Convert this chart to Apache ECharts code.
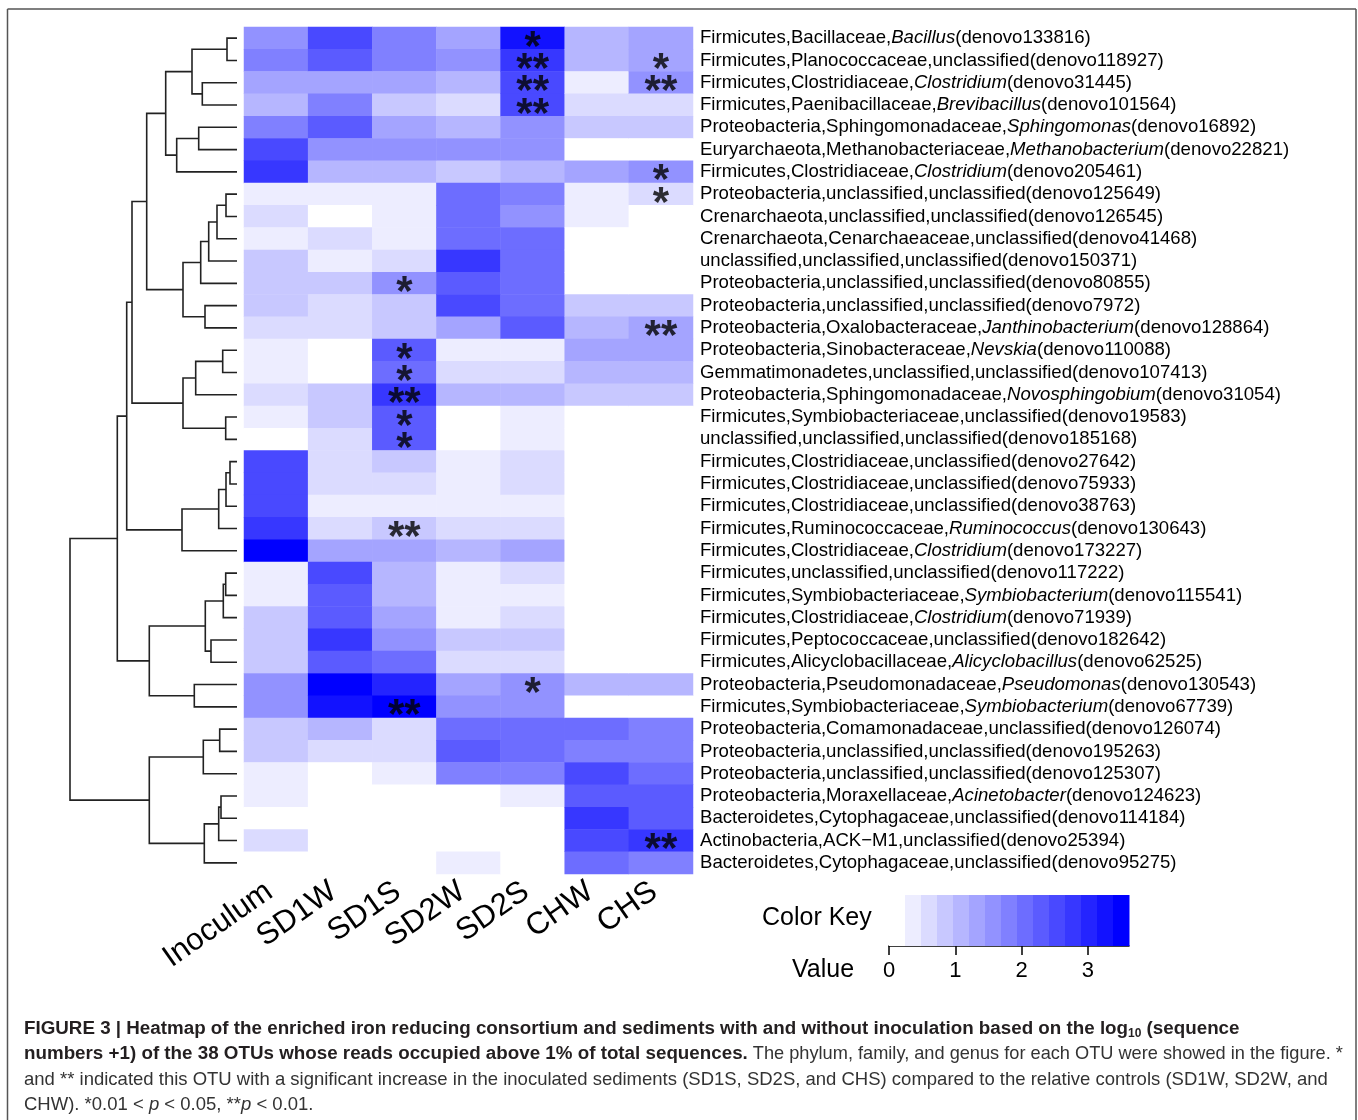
<!DOCTYPE html>
<html><head><meta charset="utf-8">
<script src="https://cdn.jsdelivr.net/npm/echarts@6/dist/echarts.min.js"></script>
<style>html,body{margin:0;padding:0;background:#fff}#c{width:1358px;height:1120px}</style>
</head><body><div id="c"></div>
<script>
// ---------------- data ----------------
const samples = ["Inoculum","SD1W","SD1S","SD2W","SD2S","CHW","CHS"];
const phylum = ["Firmicutes","Firmicutes","Firmicutes","Firmicutes","Proteobacteria","Euryarchaeota","Firmicutes","Proteobacteria","Crenarchaeota","Crenarchaeota","unclassified","Proteobacteria","Proteobacteria","Proteobacteria","Proteobacteria","Gemmatimonadetes","Proteobacteria","Firmicutes","unclassified","Firmicutes","Firmicutes","Firmicutes","Firmicutes","Firmicutes","Firmicutes","Firmicutes","Firmicutes","Firmicutes","Firmicutes","Proteobacteria","Firmicutes","Proteobacteria","Proteobacteria","Proteobacteria","Proteobacteria","Bacteroidetes","Actinobacteria","Bacteroidetes"];
const family = ["Bacillaceae","Planococcaceae","Clostridiaceae","Paenibacillaceae","Sphingomonadaceae","Methanobacteriaceae","Clostridiaceae","unclassified","unclassified","Cenarchaeaceae","unclassified","unclassified","unclassified","Oxalobacteraceae","Sinobacteraceae","unclassified","Sphingomonadaceae","Symbiobacteriaceae","unclassified","Clostridiaceae","Clostridiaceae","Clostridiaceae","Ruminococcaceae","Clostridiaceae","unclassified","Symbiobacteriaceae","Clostridiaceae","Peptococcaceae","Alicyclobacillaceae","Pseudomonadaceae","Symbiobacteriaceae","Comamonadaceae","unclassified","unclassified","Moraxellaceae","Cytophagaceae","ACK\u2212M1","Cytophagaceae"];
const genus = ["Bacillus","unclassified","Clostridium","Brevibacillus","Sphingomonas","Methanobacterium","Clostridium","unclassified","unclassified","unclassified","unclassified","unclassified","unclassified","Janthinobacterium","Nevskia","unclassified","Novosphingobium","unclassified","unclassified","unclassified","unclassified","unclassified","Ruminococcus","Clostridium","unclassified","Symbiobacterium","Clostridium","unclassified","Alicyclobacillus","Pseudomonas","Symbiobacterium","unclassified","unclassified","unclassified","Acinetobacter","unclassified","unclassified","unclassified"];
const otu = ["denovo133816","denovo118927","denovo31445","denovo101564","denovo16892","denovo22821","denovo205461","denovo125649","denovo126545","denovo41468","denovo150371","denovo80855","denovo7972","denovo128864","denovo110088","denovo107413","denovo31054","denovo19583","denovo185168","denovo27642","denovo75933","denovo38763","denovo130643","denovo173227","denovo117222","denovo115541","denovo71939","denovo182642","denovo62525","denovo130543","denovo67739","denovo126074","denovo195263","denovo125307","denovo124623","denovo114184","denovo25394","denovo95275"];

// log10(sequence numbers + 1), one array per sample, rows in the order above
const inoculum = [1.58,1.79,1.31,1.10,1.82,2.51,2.76,0.33,0.62,0.36,0.86,0.83,0.88,0.58,0.31,0.38,0.61,0.34,0,2.55,2.50,2.53,2.79,3.56,0.32,0.37,0.84,0.87,0.86,1.55,1.60,0.85,0.82,0.30,0.35,0,0.63,0];
const sd1w = [2.54,2.30,1.33,1.80,2.28,1.57,1.09,0.36,0,0.60,0.34,0.86,0.60,0.62,0,0,0.85,0.83,0.58,0.61,0.60,0.35,0.62,1.34,2.52,2.31,2.27,2.78,2.30,3.58,3.30,1.08,0.60,0,0,0,0,0];
const sd1s = [1.81,1.79,1.32,0.84,1.30,1.56,1.07,0.35,0.37,0.33,0.60,1.58,0.86,0.85,2.30,2.07,2.78,2.32,2.29,0.85,0.60,0.36,0.84,1.33,1.10,1.08,1.35,1.56,2.04,3.01,3.60,0.61,0.59,0.34,0,0,0,0];
const sd2w = [1.33,1.57,1.08,0.60,1.09,1.56,0.85,2.05,2.04,2.06,2.77,2.30,2.53,1.31,0.35,0.60,1.10,0,0,0.34,0.36,0.33,0.60,1.08,0.35,0.36,0.34,0.86,0.61,1.32,1.57,2.05,2.29,1.80,0,0,0,0.35];
const sd2s = [3.25,2.78,2.54,2.52,1.57,1.58,1.09,1.80,1.57,2.05,2.06,2.03,2.07,2.30,0.35,0.60,1.09,0.34,0.36,0.60,0.62,0.35,0.60,1.33,0.60,0.35,0.59,0.85,0.60,1.57,1.56,2.05,2.05,1.80,0.33,0,0,0];
const chw = [1.08,1.09,0.35,0.60,0.85,0,1.32,0.36,0.34,0,0,0,0.85,1.08,1.33,1.09,0.84,0,0,0,0,0,0,0,0,0,0,0,0,1.08,0,2.05,1.80,2.53,2.30,2.78,2.52,2.06];
const chs = [1.33,1.32,1.57,0.60,0.85,0,1.58,0.60,0,0,0,0,0.85,1.33,1.32,1.08,0.86,0,0,0,0,0,0,0,0,0,0,0,0,1.09,0,1.80,1.81,2.05,2.30,2.29,2.78,1.80];

// significance marks: row index, sample index, mark
const sigRows = [0,1,1,2,2,3,6,7,11,13,14,15,16,17,18,22,29,30,36];
const sigCols = [4,4,6,4,6,4,6,6,2,6,2,2,2,2,2,2,4,2,6];
const sigMarks = ["*","**","*","**","**","**","*","*","*","**","*","*","**","*","*","**","*","**","**"];

// row dendrogram merges: [node, left child, right child, height]; numbers are leaf rows
const dendroMerges = [
 ["A",0,1,10],["B",2,3,34.7],["C","A","B",45],["D",4,5,38.3],["E","D",6,60.3],["F","C","E",71.3],
 ["G",7,8,11],["H","G",9,20],["I","H",10,28.3],["J","I",11,36.3],["K",12,13,32],["L","J","K",54],
 ["M","F","L",90.3],["N",14,15,14.3],["O","N",16,41.3],["P",17,18,11.3],["Q","O","P",54],["R","M","Q",105],
 ["T",19,20,7],["U","T",21,11],["V","U",22,18.3],["W","V",23,55],["S","R","W",110.3],
 ["Y1",24,25,11.3],["Y2","Y1",26,13.7],["Y3",27,28,26],["Y4","Y2","Y3",31.7],["Y5",29,30,42.7],["Y6","Y4","Y5",87.7],
 ["X","S","Y6",119.7],
 ["Z1",31,32,17.3],["Z2","Z1",33,33.7],["Z3",34,35,16],["Z4","Z3",36,18.3],["Z5","Z4",37,32.7],["Z6","Z2","Z5",87.7],
 ["Root","X","Z6",167]
];

// colour key
const keyMax = 3.62;
const keyBins = 15;
const keyTicks = [0,1,2,3];

// ---------------- build ----------------
const columns = [inoculum, sd1w, sd1s, sd2w, sd2s, chw, chs];
const heatData = [];
columns.forEach((col, c) => col.forEach((v, r) => heatData.push([c, r, v])));

const step = keyMax / keyBins;
function binColor(i) {
  const g = Math.round(255 * (1 - i / (keyBins - 1)));
  return 'rgb(' + g + ',' + g + ',255)';
}
const pieces = [];
for (let i = 0; i < keyBins; i++) {
  const p = { gte: i * step, color: binColor(i) };
  if (i < keyBins - 1) p.lt = (i + 1) * step; else p.lte = 100;
  pieces.push(p);
}
const keyData = [];
for (let i = 0; i < keyBins; i++) keyData.push([i * step, (i + 1) * step, i]);

const nodes = {};
function getNode(k) { return typeof k === 'number' ? { h: 0, y: k } : nodes[k]; }
const dendroData = dendroMerges.map(m => {
  const a = getNode(m[1]), b = getNode(m[2]);
  nodes[m[0]] = { h: m[3], y: (a.y + b.y) / 2 };
  return [a.h, a.y, b.h, b.y, m[3]];
});

const sigData = sigRows.map((r, i) => [sigCols[i], r, sigMarks[i]]);

const FONT = 'Liberation Sans, Arial, Helvetica, sans-serif';
const CAP = 18.5;
const CAPB = 18.8;
const chart = echarts.init(document.getElementById('c'), null, { renderer: 'canvas' });

const option = {
  backgroundColor: '#fff',
  animation: false,
  textStyle: { fontFamily: FONT },
  grid: [
    { left: 244, top: 27, width: 449, height: 847 },
    { left: 70, top: 27, width: 167, height: 847 },
    { left: 889, top: 895, width: 240, height: 51 }
  ],
  xAxis: [
    { gridIndex: 0, type: 'category', data: samples, position: 'bottom',
      axisLine: { show: false }, axisTick: { show: false }, splitLine: { show: false },
      axisLabel: { rotate: 35, fontSize: 31, color: '#000', margin: 10, interval: 0, padding: [0, 8, 0, 0], fontFamily: FONT } },
    { gridIndex: 1, type: 'value', min: 0, max: 167, inverse: true, show: false },
    { gridIndex: 2, type: 'value', min: 0, max: keyMax, interval: 1, position: 'bottom',
      splitLine: { show: false },
      axisLine: { show: true, lineStyle: { color: '#000', width: 1.5 } },
      axisTick: { show: true, length: 9, lineStyle: { color: '#000', width: 1.5 }, customValues: keyTicks },
      axisLabel: { fontSize: 22, color: '#000', margin: 14, customValues: keyTicks, fontFamily: FONT } }
  ],
  yAxis: [
    { gridIndex: 0, type: 'category', data: otu, inverse: true, position: 'right',
      axisLine: { show: false }, axisTick: { show: false }, splitLine: { show: false },
      axisLabel: {
        interval: 0, margin: 7, align: 'left',
        formatter: function (val) {
          const i = otu.indexOf(val);
          const g = genus[i] === 'unclassified' ? '{n|unclassified}' : '{i|' + genus[i] + '}';
          return '{n|' + phylum[i] + ',' + family[i] + ',}' + g + '{n|(' + otu[i] + ')}';
        },
        rich: {
          n: { fontSize: 18.6, color: '#000', fontFamily: FONT },
          i: { fontSize: 18.6, color: '#000', fontStyle: 'italic', fontFamily: FONT }
        }
      } },
    { gridIndex: 1, type: 'value', min: -0.5, max: 37.5, inverse: true, show: false },
    { gridIndex: 2, type: 'value', min: 0, max: 1, show: false }
  ],
  visualMap: {
    type: 'piecewise', show: false, dimension: 2, seriesIndex: 0, pieces: pieces
  },
  series: [
    { type: 'heatmap', xAxisIndex: 0, yAxisIndex: 0, data: heatData,
      emphasis: { disabled: true }, itemStyle: { borderWidth: 0 } },
    { type: 'scatter', xAxisIndex: 0, yAxisIndex: 0, data: sigData, symbolSize: 1,
      itemStyle: { color: 'rgba(0,0,0,0)' }, z: 5, silent: true,
      label: { show: true, position: 'inside', formatter: p => p.data[2],
        fontSize: 42, fontWeight: 'bold', color: '#000', offset: [0, 10], fontFamily: FONT } },
    { type: 'custom', xAxisIndex: 1, yAxisIndex: 1, data: dendroData, silent: true,
      encode: { x: [0, 2, 4], y: [1, 3] },
      renderItem: function (params, api) {
        const p1 = api.coord([api.value(0), api.value(1)]);
        const p2 = api.coord([api.value(4), api.value(1)]);
        const p3 = api.coord([api.value(4), api.value(3)]);
        const p4 = api.coord([api.value(2), api.value(3)]);
        return { type: 'polyline', shape: { points: [p1, p2, p3, p4] },
          style: { stroke: '#222', lineWidth: 1.6, fill: null } };
      } },
    { type: 'custom', xAxisIndex: 2, yAxisIndex: 2, data: keyData, silent: true,
      encode: { x: [0, 1] },
      renderItem: function (params, api) {
        const a = api.coord([api.value(0), 1]);
        const b = api.coord([api.value(1), 0]);
        return { type: 'rect', shape: { x: a[0], y: a[1], width: b[0] - a[0] + 0.5, height: b[1] - a[1] },
          style: { fill: binColor(api.value(2)) } };
      } }
  ],
  graphic: [
    { type: 'line', shape: { x1: 7.5, y1: 9, x2: 1356, y2: 9 }, style: { stroke: '#555', lineWidth: 1.5 } },
    { type: 'line', shape: { x1: 7.5, y1: 9, x2: 7.5, y2: 1120 }, style: { stroke: '#555', lineWidth: 1.5 } },
    { type: 'line', shape: { x1: 1356, y1: 9, x2: 1356, y2: 1120 }, style: { stroke: '#555', lineWidth: 1.5 } },
    { type: 'text', x: 762, y: 918, style: { text: 'Color Key', font: '25px ' + FONT, fill: '#000', textVerticalAlign: 'middle' } },
    { type: 'text', x: 792, y: 970, style: { text: 'Value', font: '25px ' + FONT, fill: '#000', textVerticalAlign: 'middle' } },
    { type: 'text', x: 24, y: 1029, style: {
        text: '{b|FIGURE 3 | Heatmap of the enriched iron reducing consortium and sediments with and without inoculation based on the log}{s|10}{b| (sequence}',
        textVerticalAlign: 'middle',
        rich: { b: { fontSize: CAPB, fontWeight: 'bold', fill: '#231f20', fontFamily: FONT },
                s: { fontSize: 12, fontWeight: 'bold', fill: '#231f20', fontFamily: FONT, padding: [9, 0, 0, 0] } } } },
    { type: 'text', x: 24, y: 1054, style: {
        text: '{b|numbers +1) of the 38 OTUs whose reads occupied above 1% of total sequences.}{r| The phylum, family, and genus for each OTU were showed in the figure. *}',
        textVerticalAlign: 'middle',
        rich: { b: { fontSize: CAPB, fontWeight: 'bold', fill: '#231f20', fontFamily: FONT },
                r: { fontSize: 18.2, fill: '#333', fontFamily: FONT } } } },
    { type: 'text', x: 24, y: 1080, style: {
        text: '{r|and ** indicated this OTU with a significant increase in the inoculated sediments (SD1S, SD2S, and CHS) compared to the relative controls (SD1W, SD2W, and}',
        textVerticalAlign: 'middle',
        rich: { r: { fontSize: CAP, fill: '#333', fontFamily: FONT } } } },
    { type: 'text', x: 24, y: 1105, style: {
        text: '{r|CHW). *0.01 < }{i|p}{r| < 0.05, **}{i|p}{r| < 0.01.}',
        textVerticalAlign: 'middle',
        rich: { r: { fontSize: CAP, fill: '#333', fontFamily: FONT },
                i: { fontSize: CAP, fill: '#333', fontStyle: 'italic', fontFamily: FONT } } } }
  ]
};
chart.setOption(option);
</script>
</body></html>
